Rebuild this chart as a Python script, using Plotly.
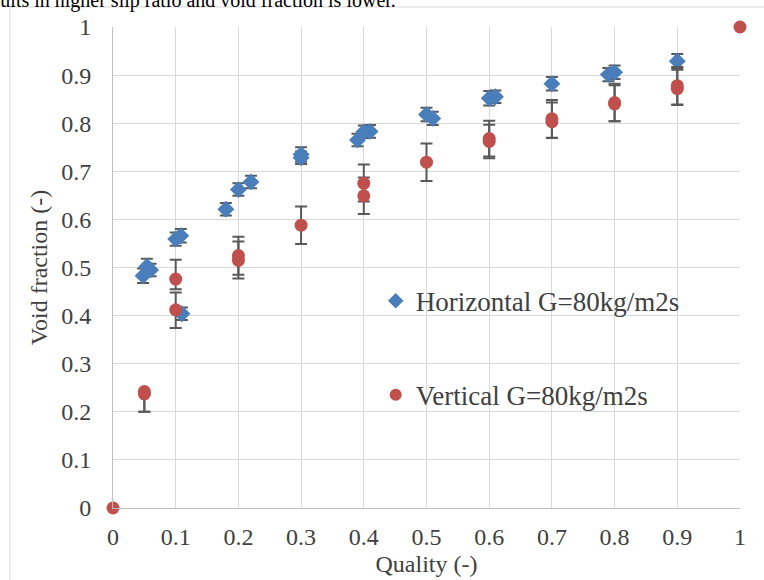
import plotly.graph_objects as go

# Horizontal flow, G = 80 kg/m2s
horiz_quality = [0.054, 0.060, 0.048, 0.100, 0.108, 0.110, 0.180, 0.200, 0.220,
                 0.300, 0.300, 0.390, 0.400, 0.410, 0.500, 0.510, 0.600, 0.610,
                 0.700, 0.790, 0.800, 0.900]
horiz_void = [0.502, 0.495, 0.483, 0.559, 0.566, 0.404, 0.621, 0.662, 0.678,
              0.735, 0.728, 0.765, 0.782, 0.783, 0.818, 0.810, 0.852, 0.855,
              0.882, 0.901, 0.906, 0.929]
horiz_err = [0.016, 0.013, 0.015, 0.014, 0.014, 0.013, 0.013, 0.013, 0.013,
             0.015, 0.013, 0.013, 0.013, 0.013, 0.014, 0.014, 0.015, 0.013,
             0.014, 0.014, 0.014, 0.015]

# Vertical flow, G = 80 kg/m2s
vert_quality = [0.0, 0.05, 0.05, 0.10, 0.10, 0.20, 0.20, 0.30, 0.40, 0.40,
                0.50, 0.60, 0.60, 0.70, 0.70, 0.80, 0.80, 0.90, 0.90, 1.0]
vert_void = [0.0, 0.242, 0.237, 0.476, 0.412, 0.525, 0.515, 0.588, 0.675, 0.649,
             0.719, 0.768, 0.762, 0.809, 0.803, 0.843, 0.840, 0.878, 0.872, 1.0]
vert_err_plus = [0.0, 0.0, 0.0, 0.040, 0.036, 0.039, 0.039, 0.039, 0.039, 0.038,
                 0.039, 0.037, 0.035, 0.039, 0.040, 0.039, 0.039, 0.039, 0.039, 0.0]
vert_err_minus = [0.0, 0.042, 0.037, 0.021, 0.038, 0.040, 0.038, 0.039, 0.038, 0.038,
                  0.039, 0.037, 0.035, 0.039, 0.034, 0.039, 0.036, 0.039, 0.034, 0.0]

x_ticks = [0, 0.1, 0.2, 0.3, 0.4, 0.5, 0.6, 0.7, 0.8, 0.9, 1]
y_ticks = [0, 0.1, 0.2, 0.3, 0.4, 0.5, 0.6, 0.7, 0.8, 0.9, 1]

SERIF = "Liberation Serif, Times New Roman, serif"
TEXT = "#404040"
GRID = "#d9d9d9"
BAR = "#595959"

fig = go.Figure()

fig.add_trace(go.Scatter(
    x=horiz_quality, y=horiz_void, mode="markers",
    name="Horizontal G=80kg/m2s", legendgroup="h",
    marker=dict(symbol="diamond", size=13, color="#4a7ebb"),
    error_y=dict(type="data", array=horiz_err, color=BAR, thickness=2, width=6),
    cliponaxis=False,
))

fig.add_trace(go.Scatter(
    x=vert_quality, y=vert_void, mode="markers",
    name="Vertical G=80kg/m2s", legendgroup="v",
    marker=dict(symbol="circle", size=13, color="#c0504d"),
    error_y=dict(type="data", symmetric=False, array=vert_err_plus,
                 arrayminus=vert_err_minus, color=BAR, thickness=2, width=6),
    cliponaxis=False,
))

axis_common = dict(
    showgrid=True, gridcolor=GRID, gridwidth=1, automargin=False,
    zeroline=False, showline=True, linecolor="#bfbfbf", linewidth=1,
    ticks="", tickfont=dict(family=SERIF, size=24, color=TEXT),
)

fig.update_xaxes(
    range=[0, 1], tickvals=x_ticks, ticktext=[f"{v:g}" for v in x_ticks],
    ticklabelstandoff=7, mirror=False,
    title=dict(text="Quality (-)", font=dict(family=SERIF, size=24, color=TEXT), standoff=6),
    **axis_common,
)
fig.update_yaxes(
    range=[0, 1], tickvals=y_ticks, ticktext=[f"{v:g}" for v in y_ticks],
    ticklabelstandoff=16,
    title=dict(text="Void fraction (-)", font=dict(family=SERIF, size=24, color=TEXT), standoff=6),
    **axis_common,
)

fig.update_layout(
    width=764, height=580,
    margin=dict(l=113, r=24, t=27, b=72),
    paper_bgcolor="white", plot_bgcolor="white",
    showlegend=True,
    legend=dict(
        x=0.419, y=0.481, xanchor="left", yanchor="top",
        bgcolor="rgba(0,0,0,0)", borderwidth=0,
        font=dict(family=SERIF, size=27, color=TEXT),
        tracegroupgap=56, itemsizing="constant",
    ),
    # outer chart frame
    shapes=[dict(type="rect", xref="paper", yref="paper",
                 x0=-0.1643, x1=1.06, y0=-0.19, y1=1.0416,
                 line=dict(color=GRID, width=1), fillcolor="rgba(0,0,0,0)",
                 layer="below")],
    annotations=[dict(
        text="results in higher slip ratio and void fraction is lower.",
        xref="paper", yref="paper", x=(398 - 113) / 627, y=(508 - 14) / 481,
        xanchor="right", yanchor="bottom", showarrow=False,
        font=dict(family=SERIF, size=20, color="black"),
    )],
)

fig.write_html("out.html")
